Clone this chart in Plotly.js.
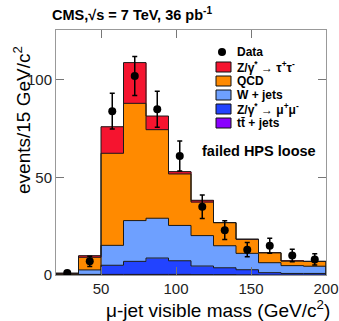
<!DOCTYPE html>
<html>
<head>
<meta charset="utf-8">
<script src="https://cdn.plot.ly/plotly-3.0.1.min.js"></script>
<style>html,body{margin:0;padding:0;background:#fff;}#chart{width:339px;height:321px;}</style>
</head>
<body>
<div id="chart"></div>
<script>
// ---- data ----
const binEdges   = [20, 35, 50, 65, 80, 95, 110, 125, 140, 155, 170, 185, 200];
const binCenters = [27.5, 42.5, 57.5, 72.5, 87.5, 102.5, 117.5, 132.5, 147.5, 162.5, 177.5, 192.5];
const ttJets   = [0, 0, 0.3, 0.3, 0.3, 0.3, 0.2, 0.2, 0.1, 0, 0, 0];
const zMuMu    = [0, 0.3, 4.7, 6.7, 8.4, 7.0, 4.4, 3.5, 2.6, 1.2, 0.8, 0.8];
const wJets    = [0.1, 2.3, 10.2, 20.9, 20.4, 18.1, 15.6, 11.3, 8.4, 5.1, 4.0, 3.7];
const qcd      = [0.8, 6.5, 47.2, 60.1, 45.4, 26.4, 17.2, 11.8, 7.2, 5.1, 2.4, 2.5];
const zTauTau  = [0, 0.8, 13.6, 20.9, 7.0, 1.2, 0.9, 0.1, 0.1, 0, 0, 0];
const dataVals = [1, 7, 84, 102, 85, 61, 35, 23, 13, 15, 10, 8];
const dataErr  = [1, 2.6, 9.2, 10, 9.2, 7.7, 6, 4.8, 3.6, 3.8, 3.2, 2.9];
const xTicks = [50, 100, 150, 200];
const yTicks = [0, 50, 100];
const legendNames = ['Z/γ<sup>*</sup> → τ<sup>+</sup>τ<sup>-</sup>', 'QCD', 'W + jets', 'Z/γ<sup>*</sup> → μ<sup>+</sup>μ<sup>-</sup>', 'tt̄ + jets'];
const colors = {tt: '#8a00ff', zmm: '#2243ff', w: '#6ea0ff', qcd: '#ff8a00', ztt: '#f5142f'};
const legendColors = [colors.ztt, colors.qcd, colors.w, colors.zmm, colors.tt];

// ---- geometry helpers (pixel -> paper) ----
const L = 56, R = 326, T = 30, B = 275, W = 339, H = 321;
const px = v => (v - L) / (R - L);
const py = v => (B - v) / (B - T);
const FONT = 'Liberation Sans, Arial, Helvetica, sans-serif';

function bar(name, y, color) {
  return {type: 'bar', name: name, x: binCenters, y: y, width: 15,
    marker: {color: color, line: {color: color, width: 0.5}}, showlegend: false, hoverinfo: 'skip'};
}
const stack = [ttJets, zMuMu, wJets, qcd, zTauTau];
const stackColors = [colors.tt, colors.zmm, colors.w, colors.qcd, colors.ztt];
const stackNames = ['tt+jets', 'Z->mumu', 'W+jets', 'QCD', 'Z->tautau'];
const traces = stack.map((s, i) => bar(stackNames[i], s, stackColors[i]));

// step outlines of cumulative stack levels
let cum = binCenters.map(() => 0);
stack.forEach((s, i) => {
  cum = cum.map((c, j) => c + s[j]);
  const xs = [binEdges[0]].concat(binEdges).concat([binEdges[binEdges.length - 1]]);
  const ys = [0].concat(cum).concat([cum[cum.length - 1], 0]);
  traces.push({type: 'scatter', mode: 'lines', x: xs, y: ys, line: {shape: 'hv', color: '#1a1a1a', width: 1},
    showlegend: false, hoverinfo: 'skip', cliponaxis: true});
});

traces.push({type: 'scatter', mode: 'markers', name: 'Data', x: binCenters, y: dataVals,
   marker: {color: '#000', size: 8},
   error_y: {type: 'data', array: dataErr, visible: true, color: '#000', thickness: 1.5, width: 2.5},
   showlegend: false});

const shapes = [];
const annotations = [];
// legend: Data
shapes.push({type: 'circle', xref: 'paper', yref: 'paper',
  x0: px(218), x1: px(226), y0: py(56), y1: py(48), fillcolor: '#000', line: {width: 0}});
annotations.push({xref: 'paper', yref: 'paper', x: px(235), y: py(52), xanchor: 'left', yanchor: 'middle',
  text: '<b>Data</b>', showarrow: false, font: {family: FONT, size: 12, color: '#000'}});
legendNames.forEach((n, i) => {
  const yc = 67 + 14 * i;
  shapes.push({type: 'rect', xref: 'paper', yref: 'paper', x0: px(216), x1: px(231),
    y0: py(yc + 5), y1: py(yc - 5), fillcolor: legendColors[i], line: {color: '#111', width: 1}});
  annotations.push({xref: 'paper', yref: 'paper', x: px(235), y: py(yc), xanchor: 'left', yanchor: 'middle',
    text: '<b>' + n + '</b>', showarrow: false, font: {family: FONT, size: 12, color: '#000'}});
});
annotations.push({xref: 'paper', yref: 'paper', x: px(200), y: py(151), xanchor: 'left', yanchor: 'middle',
  text: '<b>failed HPS loose</b>', showarrow: false, font: {family: FONT, size: 14.5, color: '#000'}});
// axis titles
annotations.push({xref: 'paper', yref: 'paper', x: px(218), y: py(309), xanchor: 'center', yanchor: 'middle',
  text: 'μ-jet visible mass (GeV/c<sup>2</sup>)', showarrow: false, font: {family: FONT, size: 19, color: '#000'}});
annotations.push({xref: 'paper', yref: 'paper', x: px(22), y: py(120), xanchor: 'center', yanchor: 'middle',
  textangle: -90, text: 'events/15 GeV/c<sup>2</sup>', showarrow: false, font: {family: FONT, size: 19, color: '#000'}});

const axisCommon = {showgrid: false, zeroline: false, showline: true, linecolor: '#999', linewidth: 1,
  ticks: 'inside', ticklen: 8, tickcolor: '#777', tickwidth: 1, mirror: 'ticks',
  tickfont: {family: FONT, size: 15, color: '#222'}};

const layout = {
  width: W, height: H,
  margin: {l: L, r: W - R, t: T, b: H - B, pad: 0},
  paper_bgcolor: '#fff', plot_bgcolor: '#fff',
  barmode: 'stack', bargap: 0,
  showlegend: false,
  title: {text: '<b>CMS,√s = 7 TeV, 36 pb<sup>-1</sup></b>', xref: 'container', yref: 'container',
    x: 52 / W, xanchor: 'left', y: 1 - 15 / H, yanchor: 'middle', font: {family: FONT, size: 14.5, color: '#000'}},
  xaxis: Object.assign({}, axisCommon, {range: [20, 200], tickvals: xTicks, ticktext: xTicks.map(String)}),
  yaxis: Object.assign({}, axisCommon, {range: [0, 125.6], tickvals: yTicks, ticktext: yTicks.map(String)}),
  shapes: shapes,
  annotations: annotations
};
Plotly.newPlot('chart', traces, layout, {staticPlot: true, displayModeBar: false});
</script>
</body>
</html>
